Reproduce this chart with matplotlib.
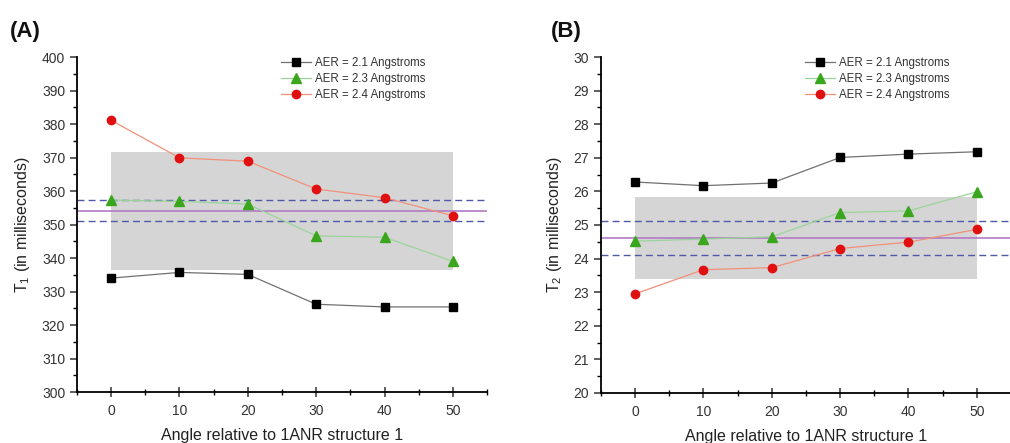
import matplotlib
matplotlib.use("Agg")
import matplotlib.pyplot as plt
from matplotlib.ticker import MultipleLocator

plt.rcParams['font.family'] = ['Liberation Sans', 'DejaVu Sans']
plt.rcParams['mathtext.fontset'] = 'custom'
plt.rcParams['mathtext.rm'] = 'Liberation Sans'
plt.rcParams['mathtext.it'] = 'Liberation Sans:italic'

angles = [0, 10, 20, 30, 40, 50]
series_labels = ["AER = 2.1 Angstroms", "AER = 2.3 Angstroms", "AER = 2.4 Angstroms"]

# Panel A: T1
t1_aer21 = [334.0, 335.7, 335.1, 326.2, 325.4, 325.4]
t1_aer23 = [357.3, 356.9, 356.1, 346.6, 346.2, 339.0]
t1_aer24 = [381.1, 369.9, 368.9, 360.6, 358.0, 352.6]
t1_band = [336.3, 371.7]
t1_mean = 354.0
t1_dash = [357.2, 350.9]

# Panel B: T2
t2_aer21 = [26.28, 26.17, 26.25, 27.01, 27.11, 27.18]
t2_aer23 = [24.52, 24.58, 24.65, 25.37, 25.42, 25.99]
t2_aer24 = [22.95, 23.67, 23.73, 24.30, 24.49, 24.87]
t2_band = [23.38, 25.82]
t2_mean = 24.6
t2_dash = [25.11, 24.11]

fig = plt.figure(figsize=(10.10, 4.43), dpi=100)
fig.patch.set_facecolor('white')

axA = fig.add_axes([0.0762, 0.1151, 0.406, 0.7562])
axB = fig.add_axes([0.595, 0.1129, 0.406, 0.7584])

styles = [
    dict(color='#707070', marker='s', mfc='black', mec='black', ms=5.5),
    dict(color='#9ad49a', marker='^', mfc='#3aa61e', mec='#3aa61e', ms=6.5),
    dict(color='#f0907a', marker='o', mfc='#e01010', mec='#e01010', ms=6),
]

def draw(ax, data, band, mean, dash, ylim, ymaj, ymin, ylabel):
    ax.fill_between([angles[0], angles[-1]], band[0], band[1], color='#d6d5d5', lw=0, zorder=1)
    ax.axhline(mean, color='#b27ac4', lw=1.2, zorder=2)
    for d in dash:
        ax.axhline(d, color='#5058a8', lw=1.0, ls=(0, (5, 3)), zorder=2)
    for vals, lab, st in zip(data, series_labels, styles):
        ax.plot(angles, vals, lw=0.9, label=lab, zorder=3, **st)
    ax.set_xlim(-5, 55)
    ax.set_ylim(*ylim)
    ax.xaxis.set_major_locator(MultipleLocator(10))
    ax.xaxis.set_minor_locator(MultipleLocator(5))
    ax.yaxis.set_major_locator(MultipleLocator(ymaj))
    ax.yaxis.set_minor_locator(MultipleLocator(ymin))
    ax.spines['top'].set_visible(False)
    ax.spines['right'].set_visible(False)
    ax.spines['left'].set_linewidth(1.3)
    ax.spines['bottom'].set_linewidth(1.3)
    ax.tick_params(axis='y', which='major', direction='out', length=5, width=1.1, labelsize=10, colors='#333333')
    ax.tick_params(axis='y', which='minor', direction='out', length=3, width=1.0)
    ax.tick_params(axis='x', which='major', direction='inout', length=7, width=1.1, labelsize=10, colors='#333333', pad=5)
    ax.tick_params(axis='x', which='minor', direction='inout', length=4, width=1.0)
    ax.set_facecolor('none')
    ax.set_xlabel('Angle relative to 1ANR structure 1', fontsize=11.5, color='#222222', labelpad=7)
    ax.set_ylabel(ylabel, fontsize=11.5, color='#222222', labelpad=7)
    leg = ax.legend(loc='upper left', bbox_to_anchor=(0.48, 1.02), frameon=False, fontsize=8.3,
                    handlelength=2.6, handletextpad=0.4, labelspacing=0.35, borderaxespad=0.2)
    for t in leg.get_texts():
        t.set_color('#333333')

draw(axA, [t1_aer21, t1_aer23, t1_aer24], t1_band, t1_mean, t1_dash, (300, 400), 10, 5,
     'T$_1$ (in milliseconds)')
draw(axB, [t2_aer21, t2_aer23, t2_aer24], t2_band, t2_mean, t2_dash, (20, 30), 1, 0.5,
     'T$_2$ (in milliseconds)')

fig.text(0.010, 0.916, '(A)', fontsize=16, fontweight='bold', color='#111111')
fig.text(0.545, 0.916, '(B)', fontsize=16, fontweight='bold', color='#111111')

fig.savefig('out.png', dpi=100)
